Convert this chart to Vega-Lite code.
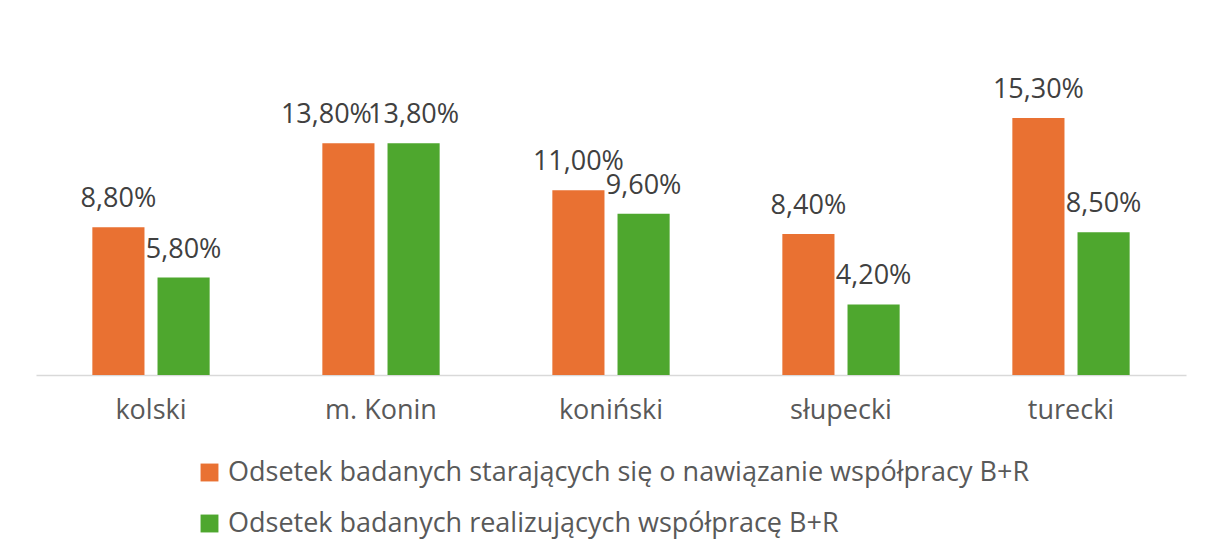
{
  "$schema": "https://vega.github.io/schema/vega-lite/v6.json",
  "width": 1150,
  "height": 336,
  "autosize": "none",
  "padding": {"left": 36, "top": 39, "right": 20, "bottom": 179},
  "background": "white",
  "config": {
    "view": {"stroke": null},
    "font": "Open Sans",
    "locale": {"number": {"decimal": ",", "thousands": " ", "grouping": [3], "currency": ["", " zł"]}}
  },
  "data": {
    "values": [
      {"powiat": "kolski", "seria": "Odsetek badanych starających się o nawiązanie współpracy B+R", "wartosc": 0.088},
      {"powiat": "kolski", "seria": "Odsetek badanych realizujących współpracę B+R", "wartosc": 0.058},
      {"powiat": "m. Konin", "seria": "Odsetek badanych starających się o nawiązanie współpracy B+R", "wartosc": 0.138},
      {"powiat": "m. Konin", "seria": "Odsetek badanych realizujących współpracę B+R", "wartosc": 0.138},
      {"powiat": "koniński", "seria": "Odsetek badanych starających się o nawiązanie współpracy B+R", "wartosc": 0.11},
      {"powiat": "koniński", "seria": "Odsetek badanych realizujących współpracę B+R", "wartosc": 0.096},
      {"powiat": "słupecki", "seria": "Odsetek badanych starających się o nawiązanie współpracy B+R", "wartosc": 0.084},
      {"powiat": "słupecki", "seria": "Odsetek badanych realizujących współpracę B+R", "wartosc": 0.042},
      {"powiat": "turecki", "seria": "Odsetek badanych starających się o nawiązanie współpracy B+R", "wartosc": 0.153},
      {"powiat": "turecki", "seria": "Odsetek badanych realizujących współpracę B+R", "wartosc": 0.085}
    ]
  },
  "encoding": {
    "x": {
      "field": "powiat", "type": "nominal", "sort": null, "title": null,
      "scale": {"paddingInner": 0.49, "paddingOuter": 0.245},
      "axis": {"labelAngle": 0, "labelFontSize": 27, "labelColor": "#595959", "labelPadding": 22, "ticks": false, "domainColor": "#d9d9d9", "domainWidth": 1.5, "grid": false}
    },
    "xOffset": {
      "field": "seria", "type": "nominal",
      "sort": ["Odsetek badanych starających się o nawiązanie współpracy B+R", "Odsetek badanych realizujących współpracę B+R"],
      "scale": {"paddingInner": 0.2, "paddingOuter": 0}
    },
    "y": {"field": "wartosc", "type": "quantitative", "scale": {"domain": [0, 0.2]}, "axis": null}
  },
  "layer": [
    {
      "mark": {"type": "bar"},
      "encoding": {
        "color": {
          "field": "seria", "type": "nominal",
          "sort": ["Odsetek badanych starających się o nawiązanie współpracy B+R", "Odsetek badanych realizujących współpracę B+R"],
          "scale": {"range": ["#E97132", "#4EA72E"]},
          "legend": {
            "title": null, "orient": "none", "legendX": 160, "legendY": 420, "direction": "vertical",
            "symbolType": "square", "symbolSize": 320, "symbolStrokeWidth": 0,
            "labelFontSize": 27, "labelColor": "#595959", "labelLimit": 1000, "rowPadding": 23, "labelOffset": 5
          }
        }
      }
    },
    {
      "transform": [{"filter": "!(datum.powiat === 'm. Konin' && indexof(datum.seria, 'starających') >= 0)"}],
      "mark": {"type": "text", "baseline": "alphabetic", "dy": -20, "fontSize": 27, "color": "#404040"},
      "encoding": {"text": {"field": "wartosc", "type": "quantitative", "format": ".2%"}}
    },
    {
      "transform": [{"filter": "datum.powiat === 'm. Konin' && indexof(datum.seria, 'starających') >= 0"}],
      "mark": {"type": "text", "baseline": "alphabetic", "dy": -20, "dx": -22, "fontSize": 27, "color": "#404040"},
      "encoding": {"text": {"field": "wartosc", "type": "quantitative", "format": ".2%"}}
    }
  ]
}
